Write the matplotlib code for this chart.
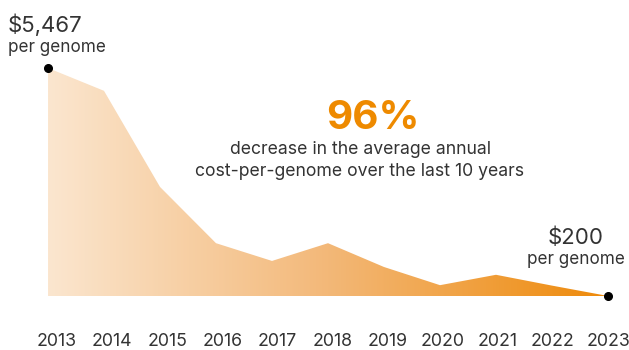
import numpy as np
import matplotlib
matplotlib.use("Agg")
import matplotlib.pyplot as plt
from matplotlib.colors import LinearSegmentedColormap

# data
years = [2013, 2014, 2015, 2016, 2017, 2018, 2019, 2020, 2021, 2022, 2023]
cost_per_genome = [5467, 4940, 2720, 1420, 1010, 1420, 870, 450, 690, 440, 200]
year_labels = [str(y) for y in years]

plt.rcParams['font.family'] = ['Inter', 'DejaVu Sans']
text_color = "#333333"
orange = "#ee8a00"

fig = plt.figure(figsize=(6.29, 3.5), dpi=100)
ax = fig.add_axes([0, 54 / 350, 1, 296 / 350])

ax.set_xlim(2012.143, 2023.375)
ax.set_ylim(200, 7038)

# gradient fill clipped to the area under the line
cmap = LinearSegmentedColormap.from_list("peach", ["#fbe6cf", "#f3b878", "#ee8a0a"])
grad = np.linspace(0, 1, 256).reshape(1, -1)
img = ax.imshow(grad, cmap=cmap, aspect="auto",
                extent=[years[0], years[-1], 200, max(cost_per_genome)],
                origin="lower", zorder=1)
poly = ax.fill_between(years, cost_per_genome, 200, color="none", lw=0)
clip = poly.get_paths()[0]
img.set_clip_path(clip, transform=ax.transData)

# end point markers
ax.plot([years[0], years[-1]], [cost_per_genome[0], cost_per_genome[-1]],
        "o", color="black", markersize=5.5, zorder=3, clip_on=False)

ax.annotate("$5,467", (years[0], cost_per_genome[0]), xytext=(-29, 31),
            textcoords="offset points", fontsize=16, color=text_color,
            ha="left", va="center")
ax.annotate("per genome", (years[0], cost_per_genome[0]), xytext=(-29, 15),
            textcoords="offset points", fontsize=12.3, color=text_color,
            ha="left", va="center")
ax.annotate("$200", (years[-1], cost_per_genome[-1]), xytext=(-23, 42),
            textcoords="offset points", fontsize=16, color=text_color,
            ha="center", va="center")
ax.annotate("per genome", (years[-1], cost_per_genome[-1]), xytext=(-23, 26),
            textcoords="offset points", fontsize=12.3, color=text_color,
            ha="center", va="center")

fig.text(373 / 629, 1 - 118 / 350, "96%", fontsize=29, fontweight="bold",
         color=orange, ha="center", va="center")
fig.text(360 / 629, 1 - 150 / 350, "decrease in the average annual",
         fontsize=12.7, color=text_color, ha="center", va="center")
fig.text(360 / 629, 1 - 172 / 350, "cost-per-genome over the last 10 years",
         fontsize=12.7, color=text_color, ha="center", va="center")

ax.set_xticks([])
ax.set_yticks([])
for s in ax.spines.values():
    s.set_visible(False)
ax.patch.set_alpha(0)

# year labels sit on their own evenly spaced scale, a bit offset from the data
lab_ax = fig.add_axes([0, 54 / 350, 1, 296 / 350], sharey=None)
lab_ax.set_xlim(2013 - 57 / 55.1, 2013 + (629 - 57) / 55.1)
lab_ax.set_xticks(years)
lab_ax.set_xticklabels(year_labels, fontsize=12.8, color=text_color)
lab_ax.tick_params(axis="x", length=0, pad=27)
lab_ax.set_yticks([])
for s in lab_ax.spines.values():
    s.set_visible(False)
lab_ax.patch.set_alpha(0)

fig.savefig("out.png", dpi=100)
